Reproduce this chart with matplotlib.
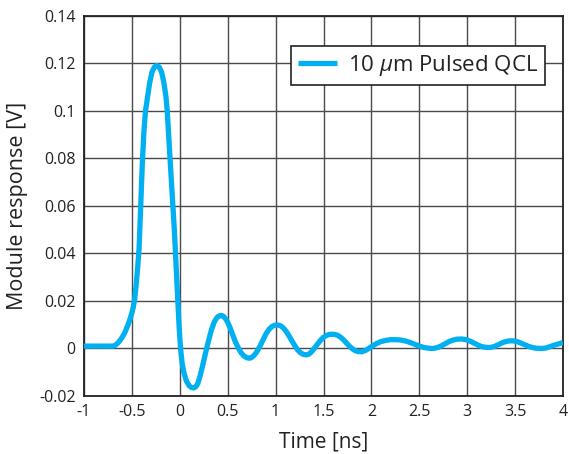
import matplotlib.pyplot as plt

plt.rcParams['font.family'] = ['Open Sans', 'DejaVu Sans']
plt.rcParams['mathtext.fontset'] = 'custom'
plt.rcParams['mathtext.it'] = 'Open Sans:italic'
plt.rcParams['mathtext.rm'] = 'Open Sans'

# values (time in ns, response in V)
time_ns = [-1.0, -0.9, -0.8, -0.7, -0.68, -0.66, -0.64, -0.62, -0.6, -0.58,
           -0.56, -0.54, -0.52, -0.5, -0.485, -0.47, -0.455, -0.44, -0.425,
           -0.408, -0.391, -0.375, -0.358, -0.335, -0.315, -0.29, -0.265,
           -0.24, -0.215, -0.19, -0.165, -0.145, -0.131, -0.117, -0.102,
           -0.087, -0.071, -0.057, -0.045, -0.032, -0.02, -0.007, 0.008, 0.025,
           0.045, 0.07, 0.1, 0.125, 0.148, 0.17, 0.19, 0.21, 0.235, 0.26, 0.28,
           0.305, 0.33, 0.36, 0.39, 0.415, 0.437, 0.46, 0.49, 0.52, 0.55, 0.58,
           0.61, 0.64, 0.67, 0.7, 0.726, 0.75, 0.78, 0.81, 0.84, 0.87, 0.9,
           0.93, 0.96, 0.99, 1.02, 1.05, 1.08, 1.11, 1.14, 1.17, 1.2, 1.23,
           1.26, 1.29, 1.323, 1.35, 1.38, 1.41, 1.44, 1.47, 1.5, 1.53, 1.56,
           1.59, 1.62, 1.65, 1.68, 1.71, 1.74, 1.77, 1.8, 1.83, 1.86, 1.9,
           1.94, 1.98, 2.02, 2.06, 2.1, 2.15, 2.2, 2.25, 2.3, 2.35, 2.4, 2.45,
           2.5, 2.55, 2.6, 2.646, 2.69, 2.73, 2.77, 2.81, 2.85, 2.89, 2.94,
           2.99, 3.03, 3.07, 3.11, 3.15, 3.19, 3.238, 3.28, 3.32, 3.36, 3.4,
           3.44, 3.48, 3.52, 3.56, 3.6, 3.64, 3.68, 3.72, 3.78, 3.82, 3.86,
           3.9, 3.95, 4.0]
response_v = [0.001, 0.001, 0.001, 0.001, 0.0012, 0.0018, 0.0026, 0.0036, 0.0048,
              0.0062, 0.008, 0.01, 0.0123, 0.015, 0.0175, 0.021, 0.027, 0.034,
              0.042, 0.06, 0.078, 0.091, 0.1, 0.1062, 0.1117, 0.1164, 0.1185,
              0.1192, 0.1185, 0.1164, 0.1117, 0.1062, 0.1, 0.09, 0.08, 0.07,
              0.06, 0.05, 0.04, 0.03, 0.02, 0.009, 0.0, -0.0065, -0.0105,
              -0.0138, -0.0158, -0.0165, -0.0166, -0.016, -0.0145, -0.0118,
              -0.0078, -0.0035, 0.0, 0.004, 0.0078, 0.0112, 0.0131, 0.0138,
              0.0139, 0.0134, 0.0118, 0.0092, 0.006, 0.0028, 0.0003, -0.0018,
              -0.0032, -0.0039, -0.0041, -0.0038, -0.0027, -0.001, 0.0012,
              0.0037, 0.0062, 0.008, 0.0092, 0.0098, 0.0099, 0.0096, 0.0087,
              0.0072, 0.0053, 0.0032, 0.0012, -0.0006, -0.0018, -0.0025,
              -0.0027, -0.0023, -0.0012, 0.0004, 0.002, 0.0035, 0.0047, 0.0055,
              0.0059, 0.006, 0.0059, 0.0055, 0.0047, 0.0036, 0.0023, 0.001,
              -0.0001, -0.0009, -0.0013, -0.0014, -0.0008, 0.0002, 0.0013,
              0.0022, 0.0029, 0.0034, 0.0037, 0.0037, 0.0036, 0.0032, 0.0026,
              0.0018, 0.001, 0.0004, 0.0001, 0.0, 0.0004, 0.0011, 0.002, 0.0029,
              0.0035, 0.0039, 0.004, 0.0037, 0.0031, 0.0023, 0.0015, 0.0008,
              0.0005, 0.0004, 0.0008, 0.0015, 0.0023, 0.0029, 0.0032, 0.0032,
              0.0029, 0.0023, 0.0016, 0.0009, 0.0004, 0.0001, 0.0, 0.0002,
              0.0007, 0.0013, 0.0019, 0.0025]

x_ticks = [-1, -0.5, 0, 0.5, 1, 1.5, 2, 2.5, 3, 3.5, 4]
x_labels = ['-1', '-0.5', '0', '0.5', '1', '1.5', '2', '2.5', '3', '3.5', '4']
y_ticks = [-0.02, 0, 0.02, 0.04, 0.06, 0.08, 0.1, 0.12, 0.14]
y_labels = ['-0.02', '0', '0.02', '0.04', '0.06', '0.08', '0.1', '0.12', '0.14']

fig = plt.figure(figsize=(5.69, 4.54), dpi=100)
ax = fig.add_axes([0.1476, 0.1278, 0.8419, 0.837])

ax.plot(time_ns, response_v, color='#00b0f0', linewidth=3.8,
        solid_joinstyle='round', solid_capstyle='butt',
        label=r'10 $\mu$m Pulsed QCL', zorder=3)

ax.set_xlim(-1, 4)
ax.set_ylim(-0.02, 0.14)
ax.set_xticks(x_ticks)
ax.set_xticklabels(x_labels)
ax.set_yticks(y_ticks)
ax.set_yticklabels(y_labels)
ax.tick_params(length=0, labelsize=11.5, colors='#222222', pad=6)
ax.grid(True, color='#4a4a4a', linewidth=1.0)
ax.set_axisbelow(True)
for s in ax.spines.values():
    s.set_color('#222222')
    s.set_linewidth(1.3)

ax.set_xlabel('Time [ns]', fontsize=15, color='#222222', labelpad=8)
ax.set_ylabel('Module response [V]', fontsize=15.5, color='#222222', labelpad=8)

leg = ax.legend(loc='upper right', bbox_to_anchor=(0.962, 0.92), fontsize=16,
                frameon=True, fancybox=False, framealpha=1, edgecolor='#222222',
                handlelength=1.75, handletextpad=0.5, borderpad=0.3,
                borderaxespad=0)
leg.get_frame().set_linewidth(1.2)
for t in leg.get_texts():
    t.set_color('#222222')

fig.savefig('out.png', dpi=100)
